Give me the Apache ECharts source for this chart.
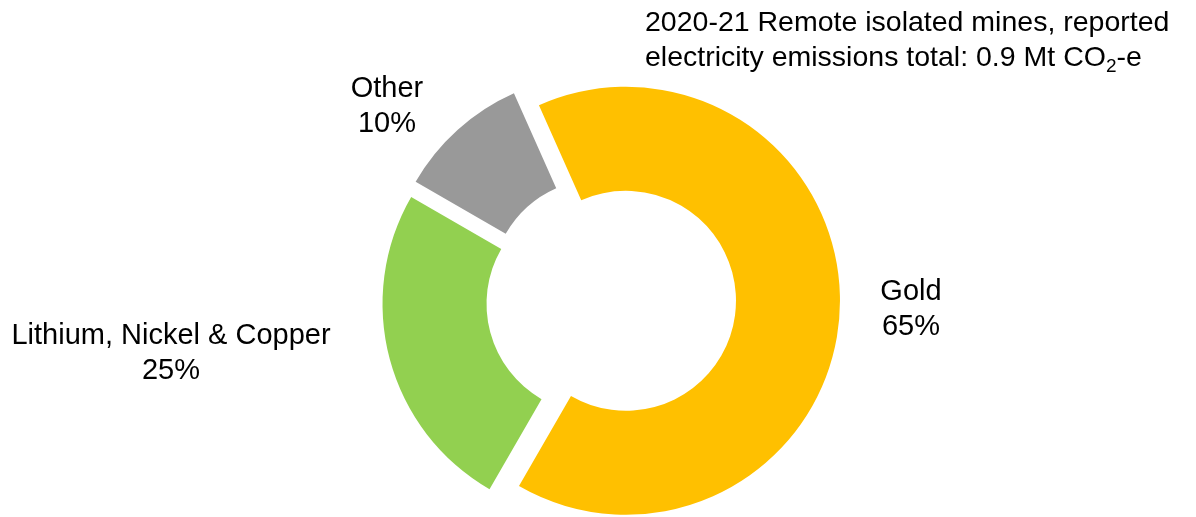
<!DOCTYPE html>
<html>
<head>
<meta charset="utf-8">
<script src="https://cdn.jsdelivr.net/npm/echarts@6/dist/echarts.min.js"></script>
<style>
  html, body { margin: 0; padding: 0; background: #ffffff; }
  #chart { width: 1196px; height: 517px; }
</style>
</head>
<body>
<div id="chart"></div>
<script>
// Share of reported electricity emissions by commodity (%)
const categories = ['Gold', 'Lithium, Nickel & Copper', 'Other'];
const shares = [65, 25, 10];
const sliceColors = ['#FFC000', '#92D050', '#999999'];

const headingLine1 = '2020-21 Remote isolated mines, reported';
const headingLine2 = 'electricity emissions total: 0.9 Mt CO{sub|2}-e';

// Where each category label sits (label centre, px)
const labelSpots = [[911, 309], [171, 353], [387, 106]];

const FONT = "'Liberation Sans', Arial, Helvetica, sans-serif";

const chart = echarts.init(document.getElementById('chart'), null, { renderer: 'canvas' });

chart.setOption({
  backgroundColor: '#ffffff',
  animation: false,
  title: {
    text: headingLine1 + '\n' + headingLine2,
    left: 645,
    top: 6,
    padding: 0,
    textStyle: {
      fontFamily: FONT,
      fontSize: 28.5,
      fontWeight: 'normal',
      color: '#000000',
      lineHeight: 35,
      rich: {
        sub: { fontFamily: FONT, fontSize: 19, color: '#000000', verticalAlign: 'bottom', lineHeight: 35 }
      }
    }
  },
  // Category name and share, one block per slice
  graphic: categories.map(function (name, i) {
    return {
      type: 'text',
      x: labelSpots[i][0],
      y: labelSpots[i][1],
      silent: true,
      style: {
        text: name + '\n' + shares[i] + '%',
        font: '29px ' + FONT,
        lineHeight: 35,
        fill: '#000000',
        align: 'center',
        verticalAlign: 'middle'
      }
    };
  }),
  series: [{
    type: 'pie',
    center: [611, 300],
    radius: [110, 214],
    startAngle: 114,
    clockwise: true,
    avoidLabelOverlap: false,
    selectedMode: 'multiple',
    selectedOffset: 15,
    itemStyle: { borderWidth: 0 },
    emphasis: { disabled: true },
    select: { itemStyle: { borderWidth: 0 } },
    label: { show: false },
    labelLine: { show: false },
    data: categories.map(function (name, i) {
      return { name: name, value: shares[i], selected: true, itemStyle: { color: sliceColors[i] } };
    })
  }]
});
</script>
</body>
</html>
